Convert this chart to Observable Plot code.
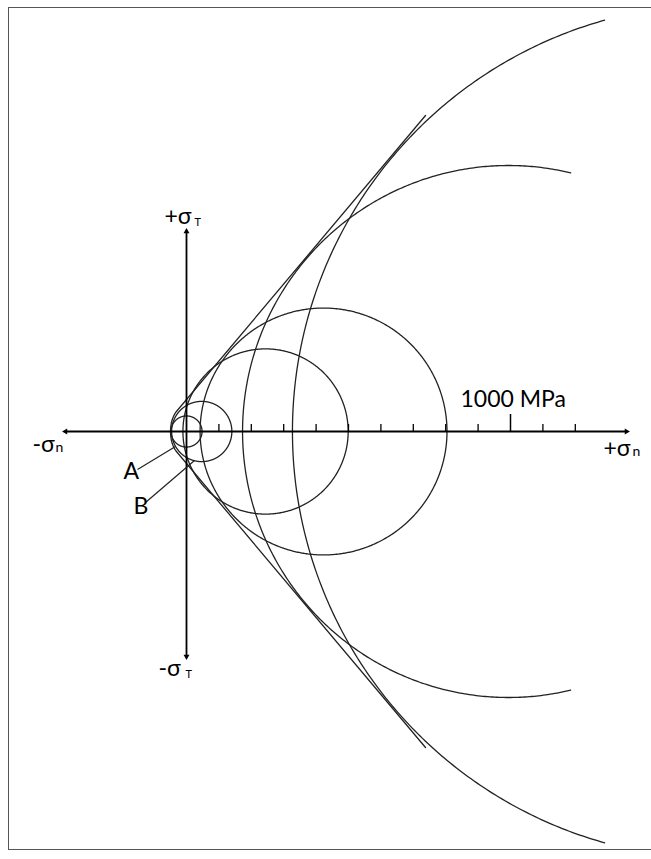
<!DOCTYPE html>
<html>
<head>
<meta charset="utf-8">
<script src="https://cdn.jsdelivr.net/npm/d3@7"></script>
<script src="https://cdn.jsdelivr.net/npm/@observablehq/plot@0.6"></script>
<style>
  html, body { margin: 0; padding: 0; background: #fff; overflow: hidden; }
  #wrap { position: relative; width: 651px; height: 859px; }
  #frame { position: absolute; left: 8px; top: 7px; width: 700px; height: 843px;
           border: 1.5px solid #555; border-right: none; pointer-events: none; box-sizing: border-box; }
</style>
</head>
<body>
<div id="wrap"><div id="frame"></div></div>
<script>
// ---- Mohr circles (stress in MPa): centre on σn axis, radius, drawn arc (degrees)
const circleNames   = ["A", "B", "C", "D", "E", "F"];
const circleCenters = [0, 47, 244, 423, 994, 1645];
const circleRadii   = [48, 93, 255, 381, 821, 1318];
const arcStartDeg   = [0, 0, 0, 0, 76.5, 105.6];
const arcEndDeg     = [360, 360, 360, 360, 283.5, 254.4];

// ---- Upper failure envelope (σn, τ) in MPa; the lower branch is its mirror image
const envelopeSigma = [-49.4, -49.0, -48.1, -46.6, -44.4, -41.8, -38.9, -35.7, -32.4, 737.7];
const envelopeTau   = [0, 9.5, 18.5, 27.2, 35.5, 42.7, 49.4, 55.2, 60.2, 975.3];

// ---- Scale ticks on the σn axis (MPa)
const minorTicks = [100, 200, 300, 400, 500, 600, 700, 800, 900, 1100, 1200];
const majorTicks = [1000];

// ---- Axis extents (MPa)
const sigmaAxis = [-373.5, 1358];
const tauAxis   = [-694.4, 617.3];

// ---- Labels
const mainLabelText  = ["-σ", "+σ", "+σ", "-σ", "A", "B", "1000 MPa"];
const mainLabelSigma = [-475.3, 1287, -67.9, -86.4, -194.4, -163.6, 845.7];
const mainLabelTau   = [-64.8, -74.1, 638.9, -753.1, -148.1, -253.1, 74.1];
const subLabelText   = ["n", "n", "T", "T"];
const subLabelSigma  = [-404.3, 1376.5, 25, -3.1];
const subLabelTau    = [-64.8, -74.1, 635.8, -759.3];

// ---- Leader lines from labels A and B to their circles
const leaderName   = ["A", "B"];
const leaderSigma1 = [-151.2, -126.5];
const leaderTau1   = [-117.3, -219.1];
const leaderSigma2 = [-34, 24.7];
const leaderTau2   = [-46.3, -89.5];

// ---------------------------------------------------------------
const W = 651, H = 859;
const pxPerMPa = 0.324, originX = 186, originY = 431;

const circleRows = circleNames.flatMap((name, i) => {
  const a0 = arcStartDeg[i], a1 = arcEndDeg[i];
  const n = Math.ceil((a1 - a0) / 0.5);
  const rows = [];
  for (let k = 0; k <= n; k++) {
    const t = (a0 + (a1 - a0) * k / n) * Math.PI / 180;
    rows.push({name, sigma: circleCenters[i] + circleRadii[i] * Math.cos(t), tau: circleRadii[i] * Math.sin(t)});
  }
  return rows;
});

const envelopeRows = [
  ...envelopeSigma.map((s, i) => ({branch: "upper", sigma: s, tau: envelopeTau[i]})),
  ...envelopeSigma.map((s, i) => ({branch: "lower", sigma: s, tau: -envelopeTau[i]}))
];

const mainLabels = mainLabelText.map((t, i) => ({t, sigma: mainLabelSigma[i], tau: mainLabelTau[i]}));
const subLabels  = subLabelText.map((t, i) => ({t, sigma: subLabelSigma[i], tau: subLabelTau[i]}));
const leaders = leaderName.map((n, i) => ({n, x1: leaderSigma1[i], y1: leaderTau1[i], x2: leaderSigma2[i], y2: leaderTau2[i]}));

const heads = [
  {sigma: sigmaAxis[0], tau: 0, rot: -90},
  {sigma: sigmaAxis[1], tau: 0, rot: 90},
  {sigma: 0, tau: tauAxis[1], rot: 0},
  {sigma: 0, tau: tauAxis[0], rot: 180}
];

const minorLen = 7 / pxPerMPa, majorLen = 17 / pxPerMPa;
const ink = "#222";
const font = "Lato, 'Open Sans', 'DejaVu Sans', sans-serif";

const chart = Plot.plot({
  width: W, height: H, margin: 0,
  style: {background: "transparent", fontFamily: font},
  x: {domain: [-originX / pxPerMPa, (W - originX) / pxPerMPa], range: [0, W], axis: null},
  y: {domain: [(originY - H) / pxPerMPa, originY / pxPerMPa], range: [H, 0], axis: null},
  marks: [
    Plot.line(circleRows, {x: "sigma", y: "tau", z: "name", stroke: ink, strokeWidth: 1.3}),
    Plot.line(envelopeRows, {x: "sigma", y: "tau", z: "branch", stroke: ink, strokeWidth: 1.3, curve: "linear"}),
    Plot.ruleY([0], {x1: sigmaAxis[0], x2: sigmaAxis[1], stroke: "#000", strokeWidth: 1.8}),
    Plot.ruleX([0], {y1: tauAxis[0], y2: tauAxis[1], stroke: "#000", strokeWidth: 1.8}),
    Plot.ruleX(minorTicks, {x: d => d, y1: 0, y2: minorLen, stroke: "#000", strokeWidth: 1.3}),
    Plot.ruleX(majorTicks, {x: d => d, y1: 0, y2: majorLen, stroke: "#000", strokeWidth: 1.5}),
    Plot.dot(heads, {x: "sigma", y: "tau", symbol: "triangle", r: 2.2, fill: "#000", stroke: null, rotate: "rot"}),
    Plot.link(leaders, {x1: "x1", y1: "y1", x2: "x2", y2: "y2", stroke: ink, strokeWidth: 1.2}),
    Plot.text(mainLabels, {x: "sigma", y: "tau", text: "t", textAnchor: "start", lineAnchor: "bottom", fontSize: 23, fill: "#000", fontFamily: font}),
    Plot.text(subLabels.slice(0, 2), {x: "sigma", y: "tau", text: "t", textAnchor: "start", lineAnchor: "bottom", fontSize: 14, fill: "#000", fontFamily: font}),
    Plot.text(subLabels.slice(2), {x: "sigma", y: "tau", text: "t", textAnchor: "start", lineAnchor: "bottom", fontSize: 11, fill: "#000", fontFamily: font})
  ]
});
chart.style.position = "absolute";
chart.style.left = "0px";
chart.style.top = "0px";
document.getElementById("wrap").prepend(chart);
</script>
</body>
</html>
